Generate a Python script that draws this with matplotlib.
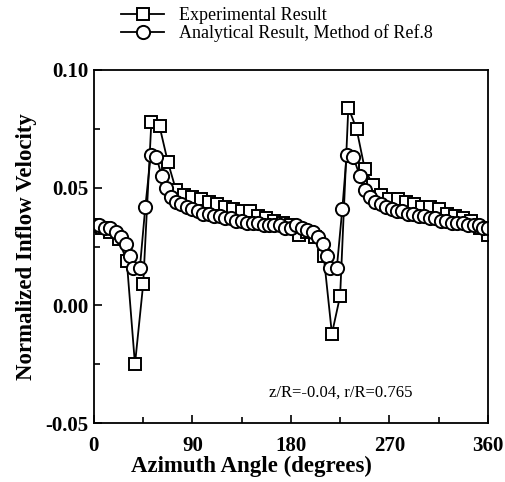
import numpy as np
import matplotlib
matplotlib.use('Agg')
import matplotlib.pyplot as plt
from matplotlib.ticker import MultipleLocator, FormatStrFormatter

# experimental data (every 7.5 deg)
exp_angle = np.arange(0, 360.1, 7.5)
exp_vel = [0.034, 0.033, 0.031, 0.028, 0.019, -0.025, 0.009, 0.078, 0.076, 0.061,
           0.049, 0.047, 0.046, 0.045, 0.044, 0.043, 0.042, 0.041, 0.040, 0.040,
           0.038, 0.037, 0.036, 0.035, 0.034, 0.030, 0.031, 0.029, 0.021, -0.012,
           0.004, 0.084, 0.075, 0.058, 0.051, 0.047, 0.045, 0.045, 0.044, 0.043,
           0.042, 0.042, 0.041, 0.039, 0.038, 0.037, 0.036, 0.033, 0.030]

# analytical result (method of ref. 8)
ana_angle = [0, 5, 10, 15, 20, 25, 29, 33, 36, 42, 47, 52, 57, 62, 66, 70, 75, 80, 85,
             90, 95, 100, 105, 110, 115, 120, 125, 130, 135, 140, 145, 150, 155, 160,
             165, 170, 175, 180, 185, 190, 195, 200, 205, 209, 213, 216, 222, 227,
             231, 237, 243, 248, 252, 257, 262, 267, 272, 277, 282, 287, 292, 297,
             302, 307, 312, 317, 322, 327, 332, 337, 342, 347, 352, 356, 360]
ana_vel = [0.034, 0.034, 0.033, 0.033, 0.031, 0.029, 0.026, 0.021, 0.016, 0.016,
           0.042, 0.064, 0.063, 0.055, 0.050, 0.046, 0.044, 0.043, 0.042, 0.041,
           0.040, 0.039, 0.039, 0.038, 0.038, 0.037, 0.037, 0.036, 0.036, 0.035,
           0.035, 0.035, 0.034, 0.034, 0.034, 0.034, 0.033, 0.033, 0.034, 0.033,
           0.032, 0.031, 0.029, 0.026, 0.021, 0.016, 0.016, 0.041, 0.064, 0.063,
           0.055, 0.049, 0.046, 0.044, 0.043, 0.042, 0.041, 0.040, 0.040, 0.039,
           0.039, 0.038, 0.038, 0.037, 0.037, 0.036, 0.036, 0.035, 0.035, 0.035,
           0.034, 0.034, 0.034, 0.033, 0.033]

plt.rcParams['font.family'] = ['Liberation Serif', 'DejaVu Serif']

fig = plt.figure(figsize=(5.05, 4.82), dpi=100)
ax = fig.add_axes([0.186, 0.122, 0.780, 0.733])

l1, = ax.plot(exp_angle, exp_vel, 'k-', marker='s', ms=9, mfc='white', mec='black',
              mew=1.4, lw=1.3)
l2, = ax.plot(ana_angle, ana_vel, 'k-', marker='o', ms=9.5, mfc='white', mec='black',
              mew=1.4, lw=1.3)

ax.set_xlim(0, 360)
ax.set_ylim(-0.05, 0.10)
ax.xaxis.set_major_locator(MultipleLocator(90))
ax.xaxis.set_minor_locator(MultipleLocator(45))
ax.yaxis.set_major_locator(MultipleLocator(0.05))
ax.yaxis.set_minor_locator(MultipleLocator(0.025))
ax.yaxis.set_major_formatter(FormatStrFormatter('%.2f'))
ax.tick_params(which='both', direction='in', top=False, right=False, width=1.2)
ax.tick_params(which='major', length=6, labelsize=15)
ax.tick_params(axis='x', which='major', pad=9)
ax.tick_params(axis='y', which='major', pad=4)
ax.tick_params(which='minor', length=4)
for lab in ax.get_xticklabels() + ax.get_yticklabels():
    lab.set_fontweight('bold')
for s in ax.spines.values():
    s.set_linewidth(1.3)

ax.set_xlabel('Azimuth Angle (degrees)', fontsize=16.5, fontweight='bold')
ax.xaxis.set_label_coords(0.40, -0.093)
ax.set_ylabel('Normalized Inflow Velocity', fontsize=16.5, fontweight='bold', labelpad=6)

ax.text(226, -0.037, 'z/R=-0.04, r/R=0.765', fontsize=12, ha='center', va='center')

fig.legend([l1, l2], ['Experimental Result', 'Analytical Result, Method of Ref.8'],
           loc='upper left', bbox_to_anchor=(0.225, 1.0), frameon=False,
           fontsize=13, handlelength=2.4, handletextpad=0.8, labelspacing=0.0,
           borderaxespad=0)

plt.savefig('out.png', dpi=100)
